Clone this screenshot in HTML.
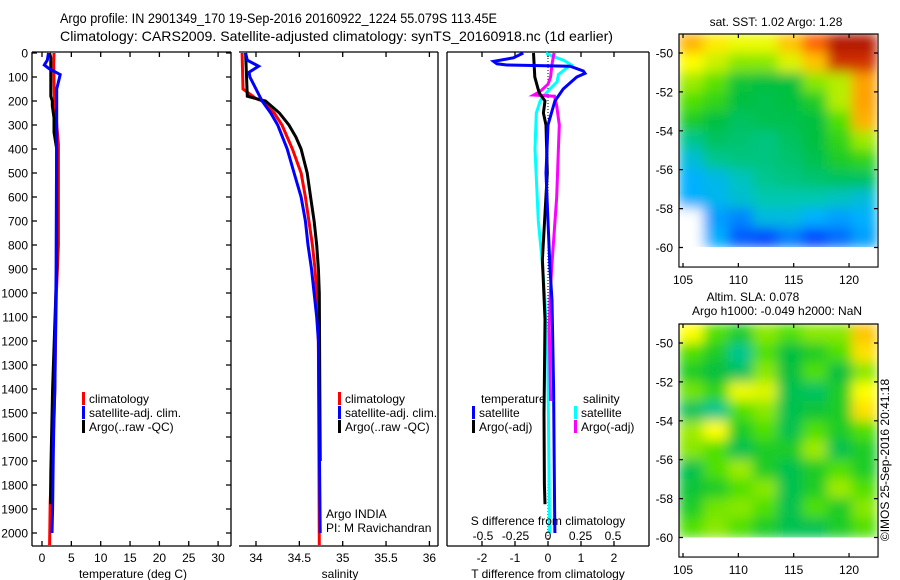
<!DOCTYPE html>
<html><head><meta charset="utf-8"><style>
html,body{margin:0;padding:0;background:#fff}
svg{display:block;font-family:"Liberation Sans",sans-serif}
</style></head><body>
<svg id="fig" width="900" height="580" viewBox="0 0 900 580" xmlns="http://www.w3.org/2000/svg">
<defs>
 <filter id="blur" x="0" y="0" width="1" height="1"><feGaussianBlur stdDeviation="6" edgeMode="duplicate"/></filter>
 <clipPath id="clip1"><rect x="679" y="34" width="198" height="213"/></clipPath>
 <clipPath id="clip2"><rect x="679" y="324" width="198" height="214"/></clipPath>
</defs>
<g font-size="14">
 <text x="60" y="23" textLength="437" lengthAdjust="spacingAndGlyphs">Argo profile: IN 2901349_170 19-Sep-2016 20160922_1224 55.079S 113.45E</text>
 <text x="60" y="41" textLength="553" lengthAdjust="spacingAndGlyphs">Climatology: CARS2009. Satellite-adjusted climatology: synTS_20160918.nc (1d earlier)</text>
</g>
<g id="axes"></g>
<g id="series"></g>
<g id="maps"></g>
<g id="labels" font-size="12"></g>
</svg>
<script>
// ---------- data ----------
const depthTicks=[0,100,200,300,400,500,600,700,800,900,1000,1100,1200,1300,1400,1500,1600,1700,1800,1900,2000];
const tempTicks=[0,5,10,15,20,25,30];
const salTicks=[34,34.5,35,35.5,36];
const tdiffTicks=[-2,-1,0,1,2];
const sdiffTicks=[-0.5,-0.25,0,0.25,0.5];
const sdiffTickLabels=["-0.5","-0.25","0","0.25","0.5"];

const tClimDepth=[0,50,180,380,800,1000,1500,1870,2050];
const tClimVal=[2.05,2.0,2.1,2.8,2.8,2.45,2.1,1.4,1.3];
const tSatDepth=[0,30,50,65,90,150,300,900,1400,1500,1700,1900,2000];
const tSatVal=[1.1,0.9,0.4,1.2,3.1,2.5,2.5,2.4,2.2,2.05,1.9,1.8,1.7];
const tArgoDepth=[0,20,180,200,220,270,330,400,900,1400,1750,1880];
const tArgoVal=[1.3,1.5,1.5,1.75,1.75,2.05,2.05,2.5,2.5,1.8,1.5,1.45];

const sClimDepth=[0,150,190,200,250,300,400,500,600,700,800,900,1000,1200,2050];
const sClimVal=[33.84,33.85,34.0,34.07,34.21,34.30,34.42,34.52,34.57,34.61,34.65,34.68,34.70,34.72,34.73];
const sSatDepth=[0,30,55,80,100,150,200,250,300,400,500,600,700,800,900,1000,1100,1200,2000];
const sSatVal=[33.88,33.9,34.03,33.92,33.93,34.0,34.07,34.17,34.25,34.36,34.44,34.52,34.57,34.60,34.64,34.67,34.70,34.72,34.74];
const sArgoDepth=[0,180,190,200,250,300,350,400,500,600,700,800,900,1000,1700];
const sArgoVal=[33.88,33.9,34.0,34.11,34.27,34.38,34.46,34.52,34.59,34.63,34.67,34.70,34.72,34.73,34.74];

const dtSatDepth=[0,20,35,45,50,55,75,85,100,150,200,300,500,900,1030,1400,1900,2000];
const dtSatVal=[-0.75,-1.05,-1.65,-1.55,-1.25,0.67,1.07,1.12,0.87,0.46,0.21,0,-0.06,0.06,0.12,0.17,0.2,0.21];
const dtArgoDepth=[0,100,150,170,200,250,300,500,860,1110,1360,1500,1800,1880];
const dtArgoVal=[-0.44,-0.4,-0.3,-0.25,-0.09,-0.14,-0.06,-0.02,-0.17,-0.09,-0.11,-0.12,-0.11,-0.09];
const dsSatDepth=[0,15,30,50,60,90,120,150,180,200,250,400,700,860,1030,1280,1500,2000];
const dsSatVal=[-0.015,0.04,0.12,0.18,0.15,0.08,0.07,0.015,-0.036,-0.06,-0.09,-0.1,-0.075,-0.046,-0.023,-0.002,0.003,0.012];
const dsArgoDepth=[0,50,100,130,160,175,180,220,300,400,600,900,1030,1150,1450];
const dsArgoVal=[0.046,0.03,0.02,0.0,-0.06,-0.11,0.05,0.067,0.087,0.08,0.067,0.028,0.015,0.01,0.02];

const sstGrid=[
 [0.80,0.74,0.70,0.70,0.78,0.90,0.98,0.98],
 [0.72,0.66,0.60,0.60,0.68,0.78,0.95,0.95],
 [0.62,0.56,0.48,0.47,0.47,0.60,0.64,0.82],
 [0.55,0.52,0.47,0.46,0.47,0.50,0.64,0.82],
 [0.50,0.47,0.45,0.46,0.46,0.47,0.55,0.80],
 [0.42,0.45,0.44,0.43,0.45,0.47,0.52,0.62],
 [0.35,0.42,0.43,0.43,0.44,0.46,0.50,0.52],
 [0.30,0.33,0.38,0.42,0.43,0.44,0.45,0.45],
 [0.30,0.32,0.36,0.40,0.40,0.40,0.38,0.35],
 [null,0.28,0.25,0.34,0.34,0.30,0.28,0.30],
 [null,0.30,0.20,0.18,0.24,0.18,0.22,0.28]];
const slaGrid=[
 [0.72,0.55,0.50,0.60,0.55,0.60,0.60,0.78],
 [0.55,0.50,0.42,0.55,0.47,0.50,0.55,0.75],
 [0.50,0.47,0.45,0.60,0.47,0.55,0.47,0.60],
 [0.58,0.52,0.70,0.68,0.46,0.45,0.50,0.72],
 [0.45,0.42,0.55,0.60,0.46,0.48,0.50,0.75],
 [0.62,0.72,0.50,0.55,0.46,0.55,0.50,0.55],
 [0.60,0.55,0.46,0.50,0.50,0.62,0.46,0.50],
 [0.46,0.55,0.62,0.50,0.46,0.50,0.55,0.50],
 [0.48,0.50,0.55,0.60,0.46,0.50,0.62,0.55],
 [0.50,0.58,0.60,0.55,0.46,0.55,0.50,0.60],
 [0.55,0.60,0.55,0.50,0.46,0.46,0.50,0.55]];
const lonTicks=[105,110,115,120];
const latTicks=[-50,-52,-54,-56,-58,-60];

// ---------- helpers ----------
const NS="http://www.w3.org/2000/svg";
function mk(tag,attrs,parent){const e=document.createElementNS(NS,tag);for(const k in attrs)e.setAttribute(k,attrs[k]);parent.appendChild(e);return e;}
const axes=document.getElementById('axes'),series=document.getElementById('series'),labels=document.getElementById('labels'),maps=document.getElementById('maps');
const yD=d=>53+d*0.24;
const xT=v=>42+v*5.87;
const xS=v=>256+(v-34)*86.7;
const xDT=v=>548+v*33;
const xDS=v=>548+v*130;
function txt(x,y,s,anchor,name,parent){const t=mk('text',{x:x,y:y,'text-anchor':anchor||'start'},parent||labels);t.textContent=s;return t;}

const p1=mk('path',{d:'M32 52H231M32 546H231M32 52V546M231 52V546',stroke:'#000','stroke-width':1.3,fill:'none'},axes);

const p2=mk('path',{d:'M239 52H438M239 546H438M438 52V546',stroke:'#000','stroke-width':1.3,fill:'none'},axes);

const p3=mk('path',{d:'M447 52H649M447 546H649M447 52V546M649 52V546',stroke:'#000','stroke-width':1.3,fill:'none'},axes);

const zl=mk('line',{x1:xDT(0),x2:xDT(0),y1:52,y2:546,stroke:'#000','stroke-width':1,'stroke-dasharray':'1,2'},axes);


depthTicks.forEach(d=>{
 const y=yD(d);
 const t=mk('path',{d:`M32 ${y}h5M231 ${y}h-5`,stroke:'#000','stroke-width':1.3},axes);
 
 txt(28,y+4.5,String(d),'end','depth-tick-label');
});
tempTicks.forEach(v=>{const x=xT(v);
 const t=mk('path',{d:`M${x} 52v5M${x} 546v-5`,stroke:'#000','stroke-width':1.3},axes);
 
 txt(x,562,String(v),'middle','temperature-tick-label');});
salTicks.forEach(v=>{const x=xS(v);
 const t=mk('path',{d:`M${x} 52v5M${x} 546v-5`,stroke:'#000','stroke-width':1.3},axes);
 
 txt(x,562,String(v),'middle','salinity-tick-label');});
tdiffTicks.forEach(v=>{const x=xDT(v);
 const t=mk('path',{d:`M${x} 52v5M${x} 546v-5`,stroke:'#000','stroke-width':1.3},axes);
 
 txt(x,562,String(v),'middle','t-diff-tick-label');});
sdiffTicks.forEach((v,i)=>{txt(xDS(v),540,sdiffTickLabels[i],'middle','s-diff-tick-label');});
txt(133,578,'temperature (deg C)','middle','temperature-axis-title');
txt(340,578,'salinity','middle','salinity-axis-title');
txt(548,578,'T difference from climatology','middle','t-diff-axis-title');
txt(548,525,'S difference from climatology','middle','s-diff-axis-title');

function line(ds,vs,fx,color,name,w){
 const pts=ds.map((d,i)=>fx(vs[i]).toFixed(1)+','+yD(d).toFixed(1)).join(' ');
 const p=mk('polyline',{points:pts,fill:'none',stroke:color,'stroke-width':w||3,'stroke-linejoin':'miter'},series);
 
}
line(tClimDepth,tClimVal,xT,'#ff0000','temperature-climatology-line');
line(tArgoDepth,tArgoVal,xT,'#000000','temperature-argo-line');
line(tSatDepth,tSatVal,xT,'#0000ff','temperature-satellite-line');
line(sClimDepth,sClimVal,xS,'#ff0000','salinity-climatology-line');
line(sArgoDepth,sArgoVal,xS,'#000000','salinity-argo-line');
line(sSatDepth,sSatVal,xS,'#0000ff','salinity-satellite-line');
line(dsSatDepth,dsSatVal,xDS,'#00ffff','s-diff-satellite-line');
line(dsArgoDepth,dsArgoVal,xDS,'#ff00ff','s-diff-argo-line');
line(dtArgoDepth,dtArgoVal,xDT,'#000000','t-diff-argo-line');
line(dtSatDepth,dtSatVal,xDT,'#0000ff','t-diff-satellite-line');

function leg(x,y,color,label,name){
 const r=mk('rect',{x:x,y:y-11,width:3,height:13,fill:color},labels);
 
 txt(x+7,y,label,'start',name);
}
leg(82,403,'#ff0000','climatology','legend-temp-climatology');
leg(82,417,'#0000ff','satellite-adj. clim.','legend-temp-satellite');
leg(82,431,'#000000','Argo(..raw -QC)','legend-temp-argo');
leg(338,403,'#ff0000','climatology','legend-sal-climatology');
leg(338,417,'#0000ff','satellite-adj. clim.','legend-sal-satellite');
leg(338,431,'#000000','Argo(..raw -QC)','legend-sal-argo');
txt(481,403,'temperature','start','legend-temperature-heading');
txt(583,403,'salinity','start','legend-salinity-heading');
leg(472,417,'#0000ff','satellite','legend-tdiff-satellite');
leg(472,431,'#000000','Argo(-adj)','legend-tdiff-argo');
leg(574,417,'#00ffff','satellite','legend-sdiff-satellite');
leg(574,431,'#ff00ff','Argo(-adj)','legend-sdiff-argo');
txt(326,518,'Argo INDIA','start','argo-india-label');
txt(326,532,'PI: M Ravichandran','start','pi-label');

const cmStops=[[0,[0,0,143]],[0.15,[0,48,255]],[0.3,[0,176,255]],[0.4,[0,200,176]],[0.47,[0,192,64]],[0.55,[80,224,0]],[0.65,[192,240,0]],[0.72,[255,255,0]],[0.8,[255,176,0]],[0.9,[255,96,0]],[1,[160,0,0]]];
function cm(v){for(let i=1;i<cmStops.length;i++){if(v<=cmStops[i][0]){const a=cmStops[i-1],b=cmStops[i],t=(v-a[0])/(b[0]-a[0]);return 'rgb('+a[1].map((c,j)=>Math.round(c+(b[1][j]-c)*t)).join(',')+')';}}return 'rgb(160,0,0)';}

function drawMap(grid,top,clip,name){
 const lonX=l=>683+(l-105)*11.07;
 const latY=la=>top+19+( -50-la)*19.45;
 const g=mk('g',{'clip-path':`url(#${clip})`},maps);
 
 const gb=mk('g',{filter:'url(#blur)'},g);
 const nr=grid.length,nc=grid[0].length,x0=679,x1=877,y0=top,y1=latY(-60);
 const cw=(x1-x0)/nc,ch=(y1-y0)/nr;
 grid.forEach((row,r)=>row.forEach((v,c)=>{
  const cell=mk('rect',{x:x0+c*cw-0.5,y:y0+r*ch-0.5,width:cw+1,height:ch+1,fill:v===null?'#ffffff':cm(v)},gb);
  
 }));
 const fr=mk('rect',{x:679,y:top,width:199,height:233,fill:'none',stroke:'#000','stroke-width':1.2},maps);
 
 const wb=mk('rect',{x:679.6,y:y1,width:197.8,height:top+232.4-y1,fill:'#fff'},maps);
 
 lonTicks.forEach(l=>{const x=lonX(l);
  const t=mk('path',{d:`M${x} ${top}v4M${x} ${top+233}v-4`,stroke:'#000','stroke-width':1.2},maps);
  
  txt(x,top+250,String(l),'middle',name+'-lon-label');});
 latTicks.forEach(la=>{const y=latY(la);
  const t=mk('path',{d:`M679 ${y}h4M878 ${y}h-4`,stroke:'#000','stroke-width':1.2},maps);
  
  txt(673,y+4.5,String(la),'end',name+'-lat-label');});
}
drawMap(sstGrid,34,'clip1','sst-map');
drawMap(slaGrid,324,'clip2','sla-map');
txt(776,26,'sat. SST: 1.02 Argo: 1.28','middle','sst-map-title');
txt(753,301,'Altim. SLA: 0.078','middle','sla-map-title');
txt(777,315,'Argo h1000: -0.049 h2000: NaN','middle','sla-map-subtitle');
const cr=txt(0,0,'©IMOS 25-Sep-2016 20:41:18','middle','copyright-label');
cr.setAttribute('transform','translate(889,460) rotate(-90)');
</script>
</body></html>
